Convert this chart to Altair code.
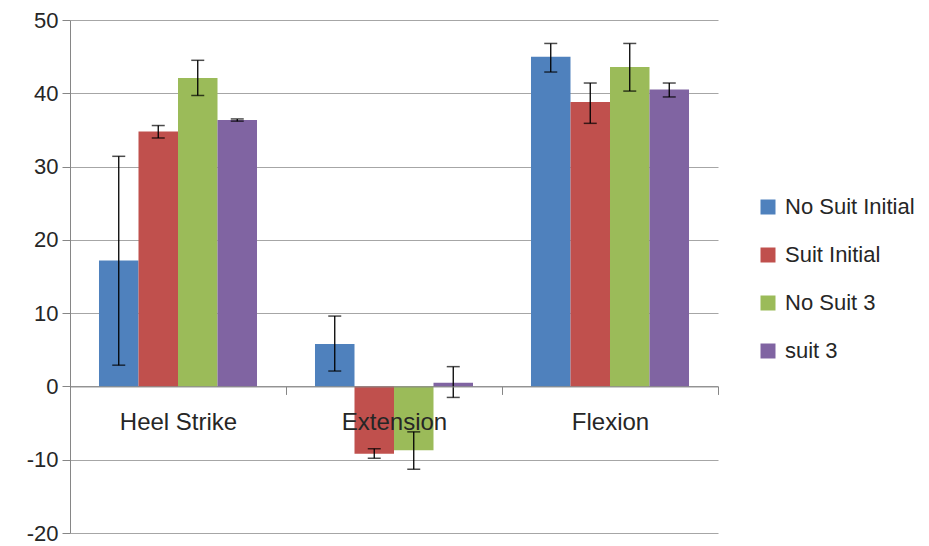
import altair as alt
import pandas as pd

categories = ["Heel Strike", "Extension", "Flexion"]
series = ["No Suit Initial", "Suit Initial", "No Suit 3", "suit 3"]
colors = ["#4F81BD", "#C0504D", "#9BBB59", "#8064A2"]

values = {
    "No Suit Initial": [17.2, 5.8, 45.0],
    "Suit Initial": [34.8, -9.2, 38.8],
    "No Suit 3": [42.1, -8.7, 43.6],
    "suit 3": [36.35, 0.5, 40.5],
}
err_low = {
    "No Suit Initial": [2.9, 2.1, 42.9],
    "Suit Initial": [33.9, -9.8, 35.9],
    "No Suit 3": [39.7, -11.3, 40.3],
    "suit 3": [36.2, -1.5, 39.5],
}
err_high = {
    "No Suit Initial": [31.4, 9.6, 46.8],
    "Suit Initial": [35.6, -8.5, 41.4],
    "No Suit 3": [44.5, -6.2, 46.8],
    "suit 3": [36.5, 2.7, 41.4],
}

rows = []
for s in series:
    for i, c in enumerate(categories):
        rows.append({"category": c, "series": s, "value": values[s][i],
                     "lo": err_low[s][i], "hi": err_high[s][i]})
df = pd.DataFrame(rows)

W, H = 648, 513
font = "Liberation Sans"

x_enc = alt.X("category:N", sort=categories, title=None,
              scale=alt.Scale(paddingInner=0, paddingOuter=0),
              axis=alt.Axis(orient="bottom", offset=-H * 20 / 70, tickBand="extent",
                            labelAngle=0, labelFontSize=24, labelFont=font,
                            labelColor="#262626", labelPadding=16, tickSize=8,
                            tickColor="#868686", domainColor="#868686", grid=False,
                            zindex=1))
xo_enc = alt.XOffset("series:N", sort=series, scale=alt.Scale(paddingOuter=0.734, paddingInner=0))
y_scale = alt.Scale(domain=[-20, 50], nice=False, zero=False)
y_axis = alt.Axis(values=list(range(-20, 51, 10)), labelFontSize=22, labelFont=font,
                  labelColor="#262626", tickSize=8, tickColor="#868686",
                  domainColor="#868686", gridColor="#A6A6A6", labelPadding=4,
                  labelExpr="toString(datum.value)",
                  minExtent=50, maxExtent=50)

bars = alt.Chart(df).mark_bar(stroke=None).encode(
    x=x_enc,
    xOffset=xo_enc,
    y=alt.Y("value:Q", scale=y_scale, axis=y_axis, title=None),
    color=alt.Color("series:N", sort=series,
                    scale=alt.Scale(domain=series, range=colors),
                    legend=alt.Legend(title=None, orient="none", legendX=687, legendY=176,
                                      symbolType="square", symbolSize=225,
                                      symbolStrokeWidth=0, labelFontSize=22,
                                      labelFont=font, labelColor="#262626",
                                      rowPadding=26, labelOffset=6)),
)

rules = alt.Chart(df).mark_rule(color="black", strokeWidth=1.3).encode(
    x=alt.X("category:N", sort=categories),
    xOffset=alt.XOffset("series:N", sort=series),
    y=alt.Y("lo:Q"),
    y2="hi:Q",
)
cap_lo = alt.Chart(df).mark_tick(color="black", thickness=1.5, size=13).encode(
    x=alt.X("category:N", sort=categories),
    xOffset=alt.XOffset("series:N", sort=series),
    y=alt.Y("lo:Q"),
)
cap_hi = alt.Chart(df).mark_tick(color="black", thickness=1.5, size=13).encode(
    x=alt.X("category:N", sort=categories),
    xOffset=alt.XOffset("series:N", sort=series),
    y=alt.Y("hi:Q"),
)

chart = alt.layer(bars, rules, cap_lo, cap_hi).properties(
    width=W, height=H,
    autosize=alt.AutoSizeParams(type="none"),
    padding={"left": 62, "top": 12, "right": 203, "bottom": 13},
    background="white",
).configure_view(stroke=None)

chart.save("out.html", embed_options={"renderer": "svg", "actions": False})
